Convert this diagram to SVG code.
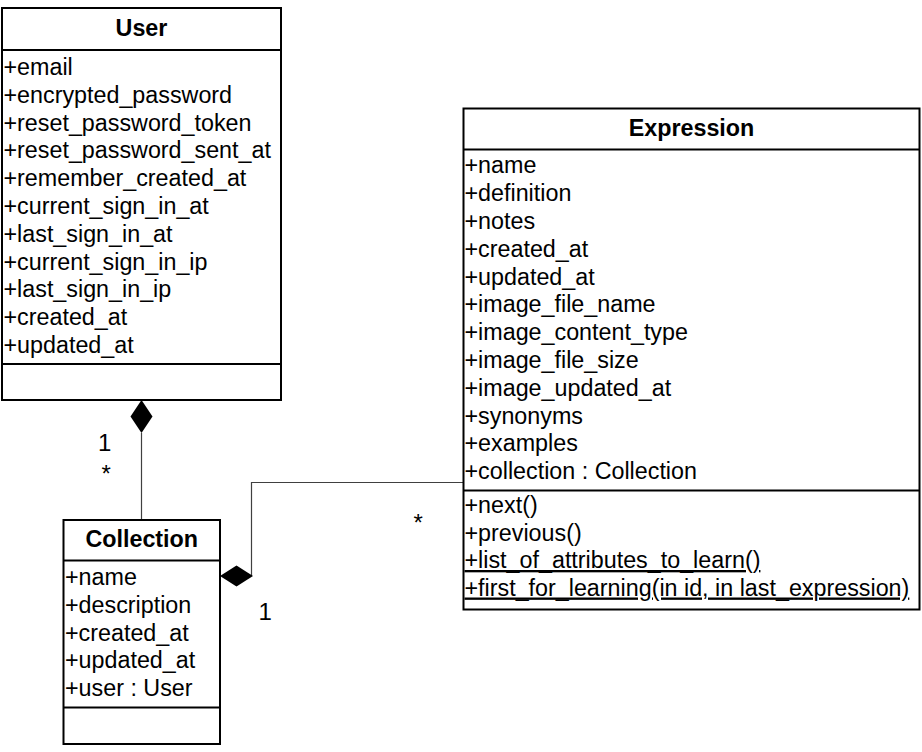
<svg xmlns="http://www.w3.org/2000/svg" width="922" height="752" viewBox="0 0 922 752">
<style>
.box{fill:#fff;stroke:#000;stroke-width:2}
.div{stroke:#000;stroke-width:2}
.t{font-family:"Liberation Sans",Arial,sans-serif;font-size:23.3px;fill:#000}
.title{font-weight:bold;text-anchor:middle}
.lbl{font-family:"Liberation Sans",Arial,sans-serif;font-size:24px;fill:#000}
.conn{fill:none;stroke:#404040;stroke-width:1.2}
.u{text-decoration:underline}
</style>
<rect width="922" height="752" fill="#fff"/>
<g id="connectors">
<line class="conn" x1="141.5" y1="433" x2="141.5" y2="520"/>
<polygon points="141.5,400 152.5,416.5 141.5,433 130.5,416.5" fill="#000"/>
<path class="conn" d="M251.5 576 V482.5 H463"/>
<polygon points="220,576 236.5,565.5 253,576 236.5,586.5" fill="#000"/>
<text class="lbl" x="98" y="451">1</text>
<text class="lbl" x="101.5" y="482">*</text>
<text class="lbl" x="413.5" y="531">*</text>
<text class="lbl" x="258.5" y="620">1</text>
</g>
<g id="User">
<rect class="box" x="2" y="8" width="279" height="392"/>
<line class="div" x1="2" y1="50" x2="281" y2="50"/>
<line class="div" x1="2" y1="364" x2="281" y2="364"/>
<text class="t title" x="141.5" y="36">User</text>
<g class="t">
<text x="3.5" y="75">+email</text>
<text x="3.5" y="102.8">+encrypted_password</text>
<text x="3.5" y="130.6">+reset_password_token</text>
<text x="3.5" y="158.4">+reset_password_sent_at</text>
<text x="3.5" y="186.2">+remember_created_at</text>
<text x="3.5" y="214">+current_sign_in_at</text>
<text x="3.5" y="241.8">+last_sign_in_at</text>
<text x="3.5" y="269.6">+current_sign_in_ip</text>
<text x="3.5" y="297.4">+last_sign_in_ip</text>
<text x="3.5" y="325.2">+created_at</text>
<text x="3.5" y="353">+updated_at</text>
</g>
</g>
<g id="Collection">
<rect class="box" x="63.5" y="520" width="156.5" height="224"/>
<line class="div" x1="63.5" y1="560.5" x2="220" y2="560.5"/>
<line class="div" x1="63.5" y1="707.5" x2="220" y2="707.5"/>
<text class="t title" x="141.75" y="547">Collection</text>
<g class="t">
<text x="65" y="585">+name</text>
<text x="65" y="612.8">+description</text>
<text x="65" y="640.6">+created_at</text>
<text x="65" y="668.4">+updated_at</text>
<text x="65" y="696.2">+user : User</text>
</g>
</g>
<g id="Expression">
<rect class="box" x="463.5" y="108.5" width="456" height="501"/>
<line class="div" x1="463.5" y1="149.5" x2="919.5" y2="149.5"/>
<line class="div" x1="463.5" y1="490.5" x2="919.5" y2="490.5"/>
<text class="t title" x="691.5" y="136">Expression</text>
<g class="t">
<text x="464.5" y="173.3">+name</text>
<text x="464.5" y="201.1">+definition</text>
<text x="464.5" y="228.9">+notes</text>
<text x="464.5" y="256.7">+created_at</text>
<text x="464.5" y="284.5">+updated_at</text>
<text x="464.5" y="312.3">+image_file_name</text>
<text x="464.5" y="340.1">+image_content_type</text>
<text x="464.5" y="367.9">+image_file_size</text>
<text x="464.5" y="395.7">+image_updated_at</text>
<text x="464.5" y="423.5">+synonyms</text>
<text x="464.5" y="451.3">+examples</text>
<text x="464.5" y="479.1">+collection : Collection</text>
<text x="464.5" y="513">+next()</text>
<text x="464.5" y="540.5">+previous()</text>
<text class="u" x="464.5" y="568">+list_of_attributes_to_learn()</text>
<text class="u" x="464.5" y="595.5">+first_for_learning(in id, in last_expression)</text>
</g>
</g>
</svg>
